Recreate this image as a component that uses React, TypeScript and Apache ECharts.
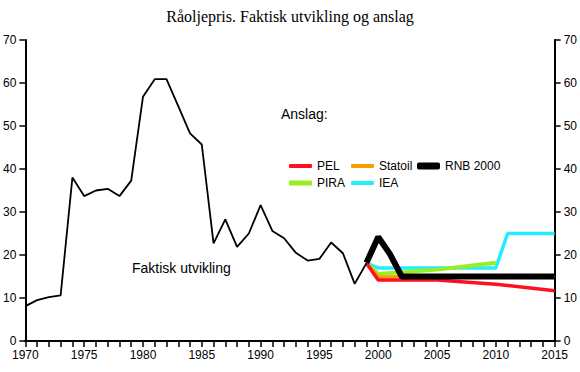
import React, { useEffect, useRef } from "react";
import * as echarts from "echarts";

const actualYears = [1970, 1971, 1972, 1973, 1974, 1975, 1976, 1977, 1978, 1979, 1980, 1981, 1982, 1983, 1984, 1985, 1986, 1987, 1988, 1989, 1990, 1991, 1992, 1993, 1994, 1995, 1996, 1997, 1998, 1999];
const actualValues = [8.1, 9.5, 10.2, 10.6, 38.0, 33.7, 35.0, 35.4, 33.7, 37.3, 56.8, 60.9, 60.9, 54.6, 48.3, 45.7, 22.7, 28.3, 21.9, 25.0, 31.6, 25.6, 23.9, 20.5, 18.7, 19.1, 22.9, 20.4, 13.3, 18.1];

const pelYears = [1999, 2000, 2005, 2010, 2015];
const pelValues = [18.1, 14.2, 14.2, 13.2, 11.7];
const statoilYears = [1999, 2000, 2001, 2002, 2015];
const statoilValues = [18.1, 14.9, 14.9, 15.0, 15.0];
const piraYears = [1999, 2000, 2005, 2010];
const piraValues = [18.1, 15.6, 16.6, 18.2];
const ieaYears = [1999, 2000, 2010, 2011, 2015];
const ieaValues = [18.1, 17.0, 17.0, 25.0, 25.0];
const rnbYears = [1999, 2000, 2001, 2002, 2015];
const rnbValues = [18.2, 24.2, 20.2, 15.0, 15.0];

const yTicks = [0, 10, 20, 30, 40, 50, 60, 70];

const pairs = (xs: number[], ys: number[]) => xs.map((x, i) => [x, ys[i]]);

export default function App() {
  const ref = useRef<HTMLDivElement>(null);
  useEffect(() => {
    if (!ref.current) return;
    const chart = echarts.init(ref.current, null, { renderer: "svg" });
    const font = "Liberation Sans, Arial, sans-serif";
    const yAxisCommon = {
      type: "value",
      min: yTicks[0],
      max: yTicks[yTicks.length - 1],
      interval: 10,
      splitLine: { show: false },
      axisLine: { show: true, lineStyle: { color: "#000", width: 2 } },
      axisTick: { show: true, length: 6, lineStyle: { color: "#000", width: 1.5 } },
      axisLabel: { color: "#000", fontSize: 12, fontFamily: font, margin: 9 },
    };
    const legendCommon = {
      itemWidth: 23,
      itemHeight: 4,
      icon: "roundRect",
      itemGap: 5,
      textStyle: { color: "#000", fontSize: 12, fontFamily: font },
      padding: 0,
    };
    chart.setOption({
      animation: false,
      backgroundColor: "#fff",
      title: {
        text: "Råoljepris. Faktisk utvikling og anslag",
        left: "center",
        top: 3,
        textStyle: { fontFamily: "Liberation Serif, Times New Roman, serif", fontWeight: "normal", fontSize: 16, color: "#000" },
      },
      grid: { left: 24, right: 25, top: 40, bottom: 31 },
      xAxis: [
        {
          type: "value",
          min: 1970,
          max: 2015,
          interval: 1,
          splitLine: { show: false },
          axisLine: { show: true, lineStyle: { color: "#000", width: 2 } },
          axisTick: { show: true, length: 6, lineStyle: { color: "#000", width: 1.5 } },
          axisLabel: {
            color: "#000",
            fontSize: 12,
            fontFamily: font,
            margin: 8,
            formatter: (v: number) => (v % 5 === 0 ? String(v) : ""),
          },
        },
        {
          type: "value",
          position: "top",
          min: 1970,
          max: 2015,
          axisLine: { show: true, lineStyle: { color: "#000", width: 2 } },
          axisTick: { show: false },
          axisLabel: { show: false },
          splitLine: { show: false },
        },
      ],
      yAxis: [
        { ...yAxisCommon, position: "left" },
        { ...yAxisCommon, position: "right" },
      ],
      legend: [
        { ...legendCommon, data: ["PEL"], left: 289, top: 160 },
        { ...legendCommon, data: ["Statoil"], left: 351, top: 160 },
        { ...legendCommon, itemHeight: 7, data: ["RNB 2000"], left: 417, top: 160 },
        { ...legendCommon, itemHeight: 5, data: ["PIRA"], left: 289, top: 177 },
        { ...legendCommon, data: ["IEA"], left: 351, top: 177 },
      ],
      graphic: [
        { type: "text", left: 281, top: 107, style: { text: "Anslag:", fontSize: 14, fontFamily: font, fill: "#000" } },
        { type: "text", left: 132, top: 261, style: { text: "Faktisk utvikling", fontSize: 14, fontFamily: font, fill: "#000" } },
      ],
      series: [
        { name: "IEA", type: "line", data: pairs(ieaYears, ieaValues), symbol: "none", lineStyle: { color: "#22eeff", width: 3.5 }, itemStyle: { color: "#22eeff" }, z: 2 },
        { name: "PIRA", type: "line", data: pairs(piraYears, piraValues), symbol: "none", lineStyle: { color: "#99ee22", width: 4 }, itemStyle: { color: "#99ee22" }, z: 3 },
        { name: "Statoil", type: "line", data: pairs(statoilYears, statoilValues), symbol: "none", lineStyle: { color: "#f5a000", width: 3.5 }, itemStyle: { color: "#f5a000" }, z: 4 },
        { name: "PEL", type: "line", data: pairs(pelYears, pelValues), symbol: "none", lineStyle: { color: "#ff1020", width: 3.5 }, itemStyle: { color: "#ff1020" }, z: 5 },
        { name: "RNB 2000", type: "line", data: pairs(rnbYears, rnbValues), symbol: "none", lineStyle: { color: "#000", width: 6 }, itemStyle: { color: "#000" }, z: 6 },
        { name: "Faktisk", type: "line", data: pairs(actualYears, actualValues), symbol: "none", lineStyle: { color: "#000", width: 1.8 }, itemStyle: { color: "#000" }, z: 7 },
      ],
    });
    return () => chart.dispose();
  }, []);
  return <div ref={ref} style={{ width: 580, height: 372, position: "fixed", left: 0, top: 0 }} />;
}
